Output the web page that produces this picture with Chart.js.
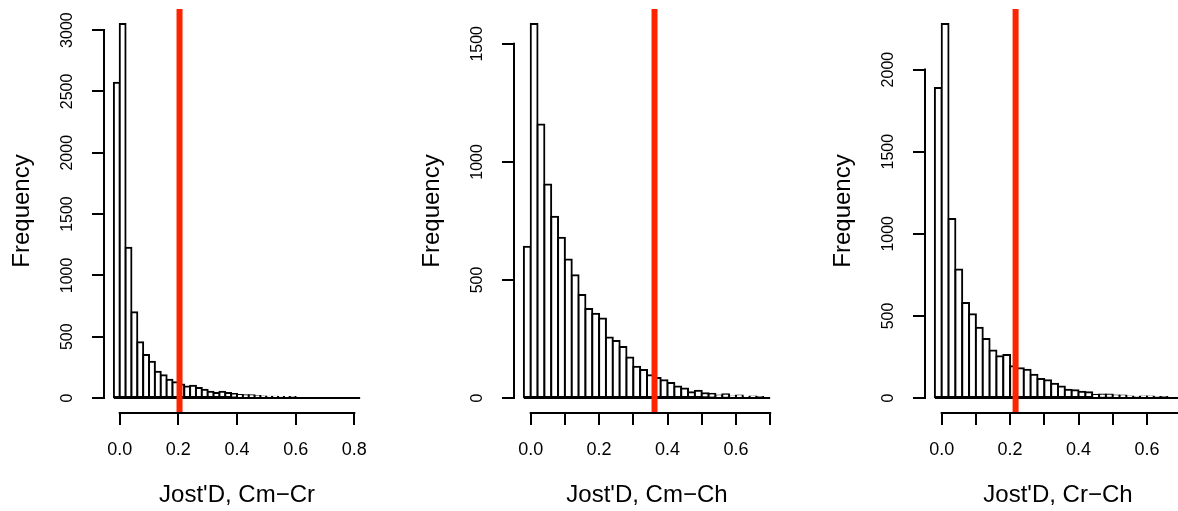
<!DOCTYPE html>
<html>
<head>
<meta charset="utf-8">
<script src="https://cdn.jsdelivr.net/npm/chart.js@4.4.1/dist/chart.umd.min.js"></script>
<style>
  html, body { margin: 0; padding: 0; background: #fff; width: 1178px; height: 511px; overflow: hidden; position: relative; }
  canvas { position: absolute; top: 0; }
</style>
</head>
<body>
<canvas id="p1" width="370" height="511" style="left:0px"></canvas>
<canvas id="p2" width="370" height="511" style="left:410px"></canvas>
<canvas id="p3" width="370" height="511" style="left:821px"></canvas>
<script>
// histogram bins: first break and bin width (same for all three panels)
const binStart = -0.02;
const binWidth = 0.02;

// counts per bin
const countsCmCr = [2570, 3050, 1225, 700, 455, 350, 295, 215, 185, 150, 128, 110, 95, 100, 81, 68,
  52, 41, 52, 41, 33, 24, 23, 22, 16, 12, 11, 10, 8, 7, 6, 0, 0, 0, 0, 0, 0, 0, 0, 0, 0, 0];
const countsCmCh = [641, 1584, 1158, 904, 768, 679, 587, 520, 436, 377, 357, 337, 256, 241, 216, 172,
  133, 119, 97, 85, 75, 64, 49, 40, 25, 31, 20, 18, 11, 16, 7, 11, 4, 7, 1, 0];
const countsCrCh = [1888, 2278, 1090, 782, 579, 510, 428, 359, 290, 254, 262, 193, 181, 173, 142, 116,
  108, 87, 71, 51, 47, 39, 35, 20, 22, 22, 16, 16, 10, 4, 10, 10, 2, 1, 0, 0];

// observed values (red lines)
const observedCmCr = 0.204;
const observedCmCh = 0.362;
const observedCrCh = 0.216;

// axis ticks and their labels
const xTicksCmCr = [0, 0.2, 0.4, 0.6, 0.8];
const xLabelsCmCr = ['0.0', '0.2', '0.4', '0.6', '0.8'];
const xTicksCmCh = [0, 0.1, 0.2, 0.3, 0.4, 0.5, 0.6, 0.7];
const xLabelsCmCh = ['0.0', '', '0.2', '', '0.4', '', '0.6', ''];
const xTicksCrCh = [0, 0.1, 0.2, 0.3, 0.4, 0.5, 0.6, 0.7];
const xLabelsCrCh = ['0.0', '', '0.2', '', '0.4', '', '0.6', ''];
const yTicksCmCr = [0, 500, 1000, 1500, 2000, 2500, 3000];
const yTicksCmCh = [0, 500, 1000, 1500];
const yTicksCrCh = [0, 500, 1000, 1500, 2000];

const xTitles = ["Jost'D, Cm\u2212Cr", "Jost'D, Cm\u2212Ch", "Jost'D, Cr\u2212Ch"];

const RED = 'rgb(255,36,0)';

Chart.defaults.font.family = '"Liberation Sans", Arial, sans-serif';
Chart.defaults.color = '#000';

// R style axis lines: only from first to last tick
const rAxes = {
  id: 'rAxes',
  afterDraw(chart) {
    const { ctx, chartArea, scales: { x, y } } = chart;
    const xt = x.ticks, yt = y.ticks;
    ctx.save();
    ctx.strokeStyle = '#000';
    ctx.lineWidth = 2;
    ctx.lineCap = 'square';
    ctx.beginPath();
    ctx.moveTo(x.getPixelForValue(xt[0].value), chartArea.bottom);
    ctx.lineTo(x.getPixelForValue(xt[xt.length - 1].value), chartArea.bottom);
    ctx.moveTo(chartArea.left, y.getPixelForValue(yt[0].value));
    ctx.lineTo(chartArea.left, y.getPixelForValue(yt[yt.length - 1].value));
    ctx.stroke();
    ctx.restore();
  }
};

function makePanel(id, counts, observed, title, xTicks, xLabels, yTicks) {
  const binEnd = binStart + binWidth * counts.length;
  const xPad = 0.04 * (binEnd - binStart);
  const top = Math.max(...counts);
  const bars = counts.map((c, i) => ({ x: binStart + binWidth * (i + 0.5), y: c }));

  const grid = { display: true, drawOnChartArea: false, drawTicks: true, tickLength: 12, lineWidth: 2, color: '#000', offset: false };

  new Chart(document.getElementById(id), {
    type: 'bar',
    data: {
      datasets: [
        {
          type: 'line',
          data: [{ x: observed, y: -0.04 * top }, { x: observed, y: 1.04 * top }],
          borderColor: RED, borderWidth: 6, pointRadius: 0, borderCapStyle: 'butt', order: 0
        },
        {
          type: 'line',
          data: [{ x: binStart, y: 0 }, { x: binEnd, y: 0 }],
          borderColor: '#000', borderWidth: 2, pointRadius: 0, order: 1
        },
        {
          type: 'bar',
          data: bars,
          backgroundColor: '#fff',
          borderColor: '#000',
          borderWidth: 2,
          borderSkipped: false,
          inflateAmount: 1,
          barPercentage: 1,
          categoryPercentage: 1,
          order: 2
        }
      ]
    },
    options: {
      responsive: false,
      animation: false,
      layout: { padding: { top: 9, left: 0, right: 0, bottom: 0 } },
      plugins: { legend: { display: false }, tooltip: { enabled: false } },
      scales: {
        x: {
          type: 'linear',
          min: binStart - xPad,
          max: binEnd + xPad,
          offset: false,
          grid: grid,
          border: { display: false },
          afterBuildTicks: s => { s.ticks = xTicks.map(v => ({ value: v })); },
          ticks: {
            autoSkip: false, maxRotation: 0, padding: 14, font: { size: 18 }, color: '#000',
            callback: (v, i) => xLabels[i]
          },
          title: { display: true, text: title, font: { size: 24 }, color: '#000', padding: { top: 0, bottom: 1 } },
          afterFit: s => { s.height = 98; s.paddingLeft = 0; s.paddingRight = 0; }
        },
        y: {
          type: 'linear',
          min: -0.04 * top,
          max: 1.04 * top,
          grid: grid,
          border: { display: false },
          afterBuildTicks: s => { s.ticks = yTicks.map(v => ({ value: v })); },
          ticks: {
            autoSkip: false, minRotation: 90, maxRotation: 90,
            crossAlign: 'center', padding: 7, font: { size: 16 }, color: '#000',
            callback: (v, i) => String(yTicks[i])
          },
          title: { display: true, text: 'Frequency', font: { size: 24 }, color: '#000', padding: { top: 8, bottom: 0 } },
          afterFit: s => { s.width = 104; s.paddingTop = 0; s.paddingBottom = 0; }
        }
      }
    },
    plugins: [rAxes]
  });
}

makePanel('p1', countsCmCr, observedCmCr, xTitles[0], xTicksCmCr, xLabelsCmCr, yTicksCmCr);
makePanel('p2', countsCmCh, observedCmCh, xTitles[1], xTicksCmCh, xLabelsCmCh, yTicksCmCh);
makePanel('p3', countsCrCh, observedCrCh, xTitles[2], xTicksCrCh, xLabelsCrCh, yTicksCrCh);
</script>
</body>
</html>
